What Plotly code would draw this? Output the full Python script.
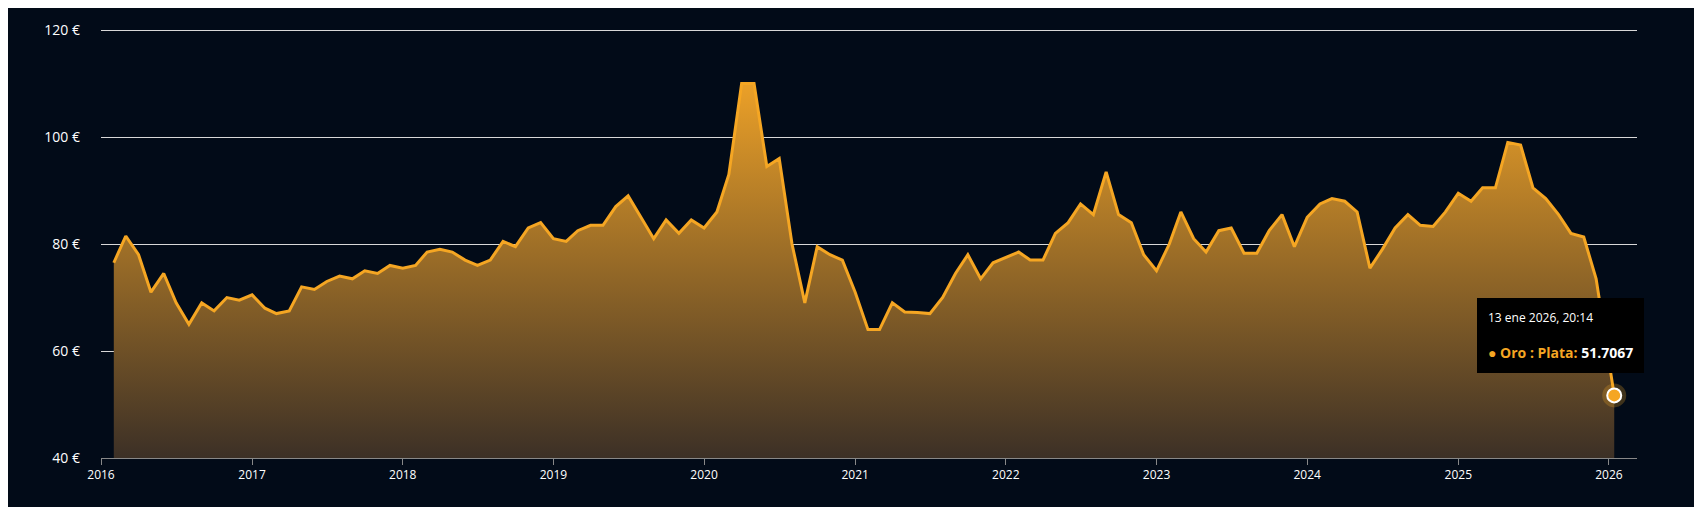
import plotly.graph_objects as go
import pandas as pd

values = [76.5,81.5,78,71,74.5,69,65,69,67.5,70,69.5,
 70.5,68,67,67.5,72,71.5,73,74,73.5,75,74.5,76,
 75.5,76,78.5,79,78.5,77,76,77,80.5,79.5,83,84,
 81,80.5,82.5,83.5,83.5,87,89,85,81,84.5,82,84.5,
 83,86,93,110,110,94.5,96,80,69,79.5,78,77,
 71,64,64,69,67.3,67.2,67,70,74.5,78,73.5,76.5,
 77.5,78.5,77,77,82,84,87.5,85.5,93.5,85.5,84,78,
 75,80,86,81,78.5,82.5,83,78.3,78.3,82.5,85.5,79.5,
 85,87.5,88.5,88,86,75.5,79,83,85.5,83.5,83.3,86,
 89.5,88,90.5,90.5,99,98.5,90.5,88.5,85.5,82,81.3,73.5]
dates = list(pd.date_range("2016-02-01", periods=len(values), freq="MS"))
dates.append(pd.Timestamp("2026-01-13 20:14"))
values.append(51.7067)
tick_years = [str(y) for y in range(2016, 2027)]
baseline = [40] * len(values)

bg = "#020b18"
fig = go.Figure()
fig.add_trace(go.Scatter(x=dates, y=baseline, mode="lines", line=dict(width=0), hoverinfo="skip"))
fig.add_trace(go.Scatter(x=dates, y=values, mode="lines",
    line=dict(color="#f5a623", width=3),
    fill="tonexty",
    fillgradient=dict(type="vertical",
        colorscale=[[0, "rgba(60,48,38,1)"], [1, "rgba(235,160,40,1)"]]),
    hoverinfo="skip"))
fig.add_trace(go.Scatter(x=[dates[-1]], y=[values[-1]], mode="markers",
    marker=dict(size=24, color="rgba(245,166,35,0.25)"), hoverinfo="skip"))
fig.add_trace(go.Scatter(x=[dates[-1]], y=[values[-1]], mode="markers",
    marker=dict(size=14, color="#f5a623", line=dict(color="white", width=2)), hoverinfo="skip"))

fig.add_annotation(xref="paper", yref="paper", x=0.9505, y=0.286,
    xanchor="center", yanchor="middle",
    text="<span style='font-size:12px'>13 ene 2026, 20:14</span><br><br>"
         "<span style='color:#f5a623'>● <b>Oro : Plata:</b></span> <b>51.7067</b>",
    showarrow=False, align="left", bgcolor="#000000", bordercolor="#000000",
    borderpad=10, font=dict(color="white", size=14, family="Open Sans"))

fig.update_layout(
    width=1702, height=507, paper_bgcolor=bg, plot_bgcolor=bg,
    margin=dict(l=93, r=73, t=17, b=57), showlegend=False,
    font=dict(family="Open Sans", color="white", size=12),
    xaxis=dict(range=["2016-01-01", "2026-03-10"], tickvals=[f"{y}-01-01" for y in tick_years],
        ticktext=tick_years, showgrid=False, ticks="outside", ticklen=6, tickcolor="#888",
        showline=True, linecolor="#888", tickfont=dict(size=12), zeroline=False),
    yaxis=dict(range=[40, 120.2], tickvals=[40, 60, 80, 100, 120],
        ticktext=["40 €", "60 €", "80 €", "100 €", "120 €"], gridcolor="#d8d8d8",
        gridwidth=1, zeroline=False, ticklabelstandoff=20, tickfont=dict(size=14)),
)
fig.write_html("out.html")
